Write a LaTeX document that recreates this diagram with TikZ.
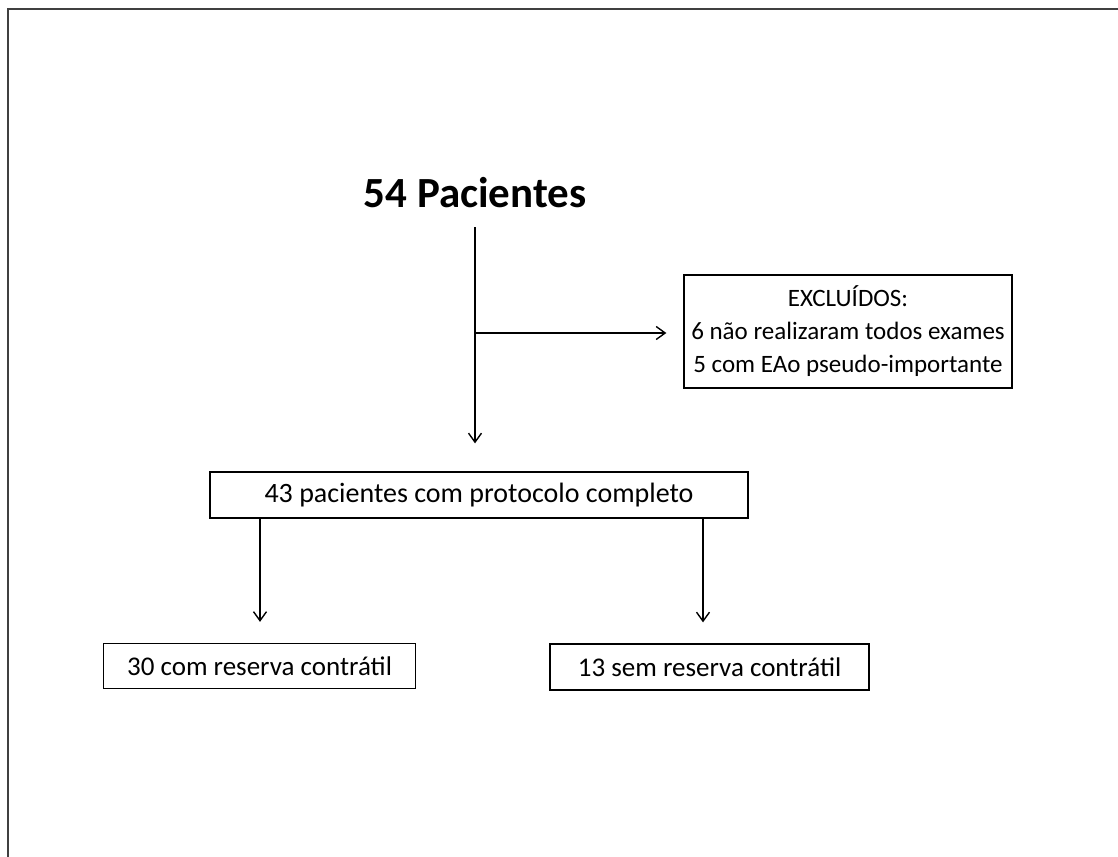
\documentclass[tikz,border=0pt]{standalone}
\usepackage{fontspec}
\setmainfont{Carlito}
\usetikzlibrary{arrows.meta}
\begin{document}
\begin{tikzpicture}[x=1pt,y=-1pt,
  box/.style={draw, line width=1.3pt, inner sep=0pt, font=\fontsize{27}{31}\selectfont, align=center},
  arr/.style={line width=1.4pt, -{Straight Barb[length=9pt,width=13pt,line width=1.4pt]}},
  frame/.style={line width=2.2pt, draw=black!75}]
\useasboundingbox (0,0) rectangle (1118,856);
\fill[white] (0,0) rectangle (1118,856);
\draw[frame] (8,870) -- (8,9) -- (1130,9);

\node[anchor=base, font=\fontsize{43}{46}\selectfont\bfseries] (title) at (475,207) {54 Pacientes};
\node[box, font=\fontsize{25}{33}\selectfont, minimum width=328pt, minimum height=113pt] (excl) at (848,331.5)
  {EXCLUÍDOS:\\6 não realizaram todos exames\\5 com EAo pseudo-importante};
\node[box, font=\fontsize{28}{31}\selectfont, minimum width=538pt, minimum height=46pt] (b43) at (479,495) {43 pacientes com protocolo completo};
\node[box, minimum width=312pt, minimum height=45pt] (b30) at (259.5,666) {30 com reserva contrátil};
\node[box, minimum width=319pt, minimum height=46pt] (b13) at (709.5,667) {13 sem reserva contrátil};

\coordinate (v1) at (475,227);
\coordinate (br) at (475,333);
\draw[line width=1.4pt] (v1) -- (br);
\draw[arr, shorten >=28pt] (br) -- (br |- b43.north);
\draw[arr, shorten >=17pt] (br) -- (br -| excl.west);
\draw[arr, shorten >=21pt] ([xshift=0.5pt]b43.south -| b30) -- ([xshift=0.5pt]b30.north);
\draw[arr, shorten >=21pt] ([xshift=-6.5pt]b43.south -| b13) -- ([xshift=-6.5pt]b13.north);
\end{tikzpicture}
\end{document}
